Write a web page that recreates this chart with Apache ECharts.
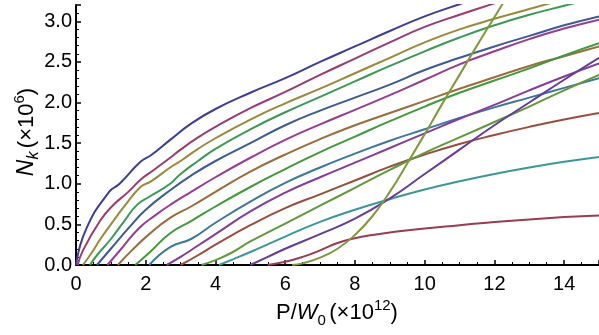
<!DOCTYPE html>
<html><head><meta charset="utf-8">
<script src="https://cdn.jsdelivr.net/npm/echarts@6/dist/echarts.min.js"></script>
<style>html,body{margin:0;padding:0;background:#fff}#c{width:599px;height:335px}</style>
</head><body><div id="c"></div>
<script>
// [P/W0 (x1e12), Nk (x1e6)], one array per charge state k
const n1  = [[0,0],[0.3,0.45],[0.95,0.9],[1.25,1.0],[1.85,1.27],[2.15,1.35],[2.7,1.54],[3.3,1.74],[4,1.92],[5,2.12],[6,2.3],[7,2.5],[8,2.69],[9,2.88],[10,3.06],[11,3.21],[12,3.35]];
const n2  = [[0.05,0],[0.2,0.18],[0.7,0.55],[1.05,0.73],[1.5,0.9],[1.85,1.05],[2.2,1.16],[2.7,1.32],[3,1.42],[3.5,1.57],[4,1.7],[5,1.93],[6,2.13],[7,2.34],[8,2.54],[9,2.74],[10,2.93],[11,3.08],[12,3.22],[13,3.36]];
const n3  = [[0.2,0],[0.45,0.15],[0.7,0.32],[1,0.5],[1.4,0.73],[1.85,0.96],[2.15,1.03],[2.7,1.2],[3,1.28],[3.5,1.43],[4,1.56],[5,1.79],[6,1.99],[7,2.17],[8,2.36],[9,2.55],[10,2.74],[11,2.9],[12,3.03],[13,3.15],[14,3.27]];
const n4  = [[0.4,0],[0.6,0.12],[1,0.32],[1.4,0.55],[1.75,0.74],[2.1,0.84],[2.7,1.0],[3,1.12],[3.5,1.28],[4,1.43],[5,1.67],[6,1.88],[7,2.07],[8,2.26],[9,2.45],[10,2.63],[11,2.8],[12,2.95],[13,3.08],[14,3.19],[15,3.3]];
const n5  = [[0.6,0],[1,0.2],[1.5,0.45],[2,0.68],[2.7,0.92],[3.3,1.1],[4,1.28],[5,1.5],[6,1.72],[7,1.9],[8,2.06],[9,2.22],[10,2.4],[11,2.55],[12,2.69],[13,2.82],[14,2.95],[15,3.06]];
const n6  = [[0.9,0],[1.3,0.2],[1.8,0.45],[2.3,0.62],[2.7,0.74],[3.3,0.9],[4,1.08],[5,1.32],[6,1.54],[7,1.73],[8,1.91],[9,2.09],[10,2.28],[11,2.47],[12,2.63],[13,2.78],[14,2.91],[15,3.02]];
const n7  = [[1.2,0],[1.6,0.18],[2.1,0.38],[2.7,0.58],[3.3,0.72],[4,0.9],[5,1.15],[6,1.36],[7,1.55],[8,1.72],[9,1.87],[10,2.02],[11,2.17],[12,2.31],[13,2.45],[14,2.57],[15,2.69]];
const n8  = [[1.7,0],[2.1,0.15],[2.7,0.39],[3.3,0.54],[4,0.72],[5,0.96],[6,1.18],[7,1.39],[8,1.58],[9,1.77],[10,1.95],[11,2.12],[12,2.27],[13,2.42],[14,2.58],[15,2.73]];
const n9  = [[2.1,0],[2.7,0.22],[3.3,0.32],[4,0.52],[5,0.78],[6,1.01],[7,1.2],[8,1.37],[9,1.53],[10,1.67],[11,1.81],[12,1.94],[13,2.06],[14,2.18],[15,2.3]];
const n10 = [[2.6,0],[3,0.1],[3.5,0.24],[4,0.38],[5,0.66],[6,0.89],[7,1.08],[8,1.26],[9,1.44],[10,1.62],[11,1.8],[12,1.97],[13,2.15],[14,2.32],[15,2.48]];
const n11 = [[3.0,0],[3.5,0.12],[4,0.25],[5,0.49],[6,0.7],[7,0.87],[8,1.04],[9,1.21],[10,1.36],[11,1.49],[12,1.6],[13,1.7],[14,1.79],[15,1.87]];
const n12 = [[3.6,0],[4,0.06],[4.5,0.16],[5,0.29],[6,0.51],[7,0.73],[8,0.95],[9,1.17],[10,1.38],[11,1.57],[12,1.76],[13,1.95],[14,2.15],[15,2.34]];
const n13 = [[4.1,0],[4.5,0.07],[5,0.16],[6,0.35],[7,0.53],[8,0.68],[9,0.81],[10,0.93],[11,1.03],[12,1.12],[13,1.2],[14,1.27],[15,1.33]];
const n14 = [[5,0],[5.5,0.1],[6,0.2],[7,0.38],[8,0.57],[9,0.82],[10,1.12],[11,1.42],[12,1.72],[13,2.0],[14,2.28],[15,2.55]];
const n15 = [[5.5,0],[6,0.04],[6.5,0.1],[7,0.18],[7.5,0.27],[8,0.33],[8.5,0.37],[9,0.4],[10,0.45],[11,0.49],[12,0.53],[13,0.56],[14,0.59],[15,0.61]];
const n16 = [[6.2,0],[6.5,0.02],[7,0.09],[7.5,0.2],[8,0.37],[8.5,0.6],[9,0.9],[9.5,1.25],[10,1.61],[10.5,1.98],[11,2.34],[11.5,2.7],[12,3.05],[12.5,3.4]];

const curves = [n1,n2,n3,n4,n5,n6,n7,n8,n9,n10,n11,n12,n13,n14,n15,n16];
const colors = ['#3f3d99','#993d71','#998b3d','#3d9956','#3d5a99','#993d8f','#996d3d','#43993d',
                '#3d7999','#843d99','#994e3d','#62993d','#3d9799','#653d99','#993d52','#81993d'];
const xTickLabels = ['0','2','4','6','8','10','12','14'];
const yTickLabels = ['0.0','0.5','1.0','1.5','2.0','2.5','3.0'];

const chart = echarts.init(document.getElementById('c'), null, {renderer:'canvas'});
const font = 'Liberation Sans';
chart.setOption({
  animation:false,
  backgroundColor:'#fff',
  grid:{left:76, right:0, top:5, bottom:70, containLabel:false},
  xAxis:{type:'value', min:0, max:15, interval:2,
    axisLine:{onZero:false, lineStyle:{color:'#000', width:2}},
    axisTick:{inside:true, length:5, lineStyle:{color:'#000', width:1.5}},
    minorTick:{show:true, splitNumber:4, length:3, lineStyle:{color:'#000', width:1}},
    splitLine:{show:false},
    axisLabel:{showMaxLabel:false, color:'#000', fontFamily:font, fontSize:20, margin:9,
      formatter:v=>{const i=xTickLabels.indexOf(String(v));return i>=0?xTickLabels[i]:'';}}
  },
  yAxis:{type:'value', min:0, max:3.2, interval:0.5,
    axisLine:{show:true, onZero:false, lineStyle:{color:'#000', width:2}},
    axisTick:{show:true, inside:true, length:5, lineStyle:{color:'#000', width:1.5}},
    minorTick:{show:true, splitNumber:5, length:3, lineStyle:{color:'#000', width:1}},
    splitLine:{show:false},
    axisLabel:{showMaxLabel:false, color:'#000', fontFamily:font, fontSize:20, margin:4,
      formatter:v=>{const s=v.toFixed(1);return yTickLabels.indexOf(s)>=0?s:'';}}
  },
  series: curves.map((d,i)=>({type:'line', data:d, showSymbol:false, smooth:0.5,
    lineStyle:{color:colors[i], width:2}, itemStyle:{color:colors[i]}, z:2+i})),
  graphic:[
    {type:'text', x:27, y:132, rotation:Math.PI/2, z:100,
     style:{text:'{i|N}{s|k} {r|(×10}{p|6}{r|)}', align:'center', verticalAlign:'middle', fill:'#000',
       rich:{i:{fontFamily:font, fontStyle:'italic', fontSize:23, verticalAlign:'middle', lineHeight:30},
             s:{fontFamily:font, fontStyle:'italic', fontSize:16, verticalAlign:'bottom', lineHeight:30},
             r:{fontFamily:font, fontSize:22, verticalAlign:'middle', lineHeight:30},
             p:{fontFamily:font, fontSize:15, verticalAlign:'top', lineHeight:30}}}},
    {type:'text', x:337, y:313, z:100,
     style:{text:'{r|P/}{i|W}{s|0} {r|(×10}{p|12}{r|)}', align:'center', verticalAlign:'middle', fill:'#000',
       rich:{i:{fontFamily:font, fontStyle:'italic', fontSize:22, verticalAlign:'middle', lineHeight:30},
             s:{fontFamily:font, fontSize:15, verticalAlign:'bottom', lineHeight:30},
             r:{fontFamily:font, fontSize:22, verticalAlign:'middle', lineHeight:30},
             p:{fontFamily:font, fontSize:15, verticalAlign:'top', lineHeight:30}}}}
  ]
});
</script></body></html>
